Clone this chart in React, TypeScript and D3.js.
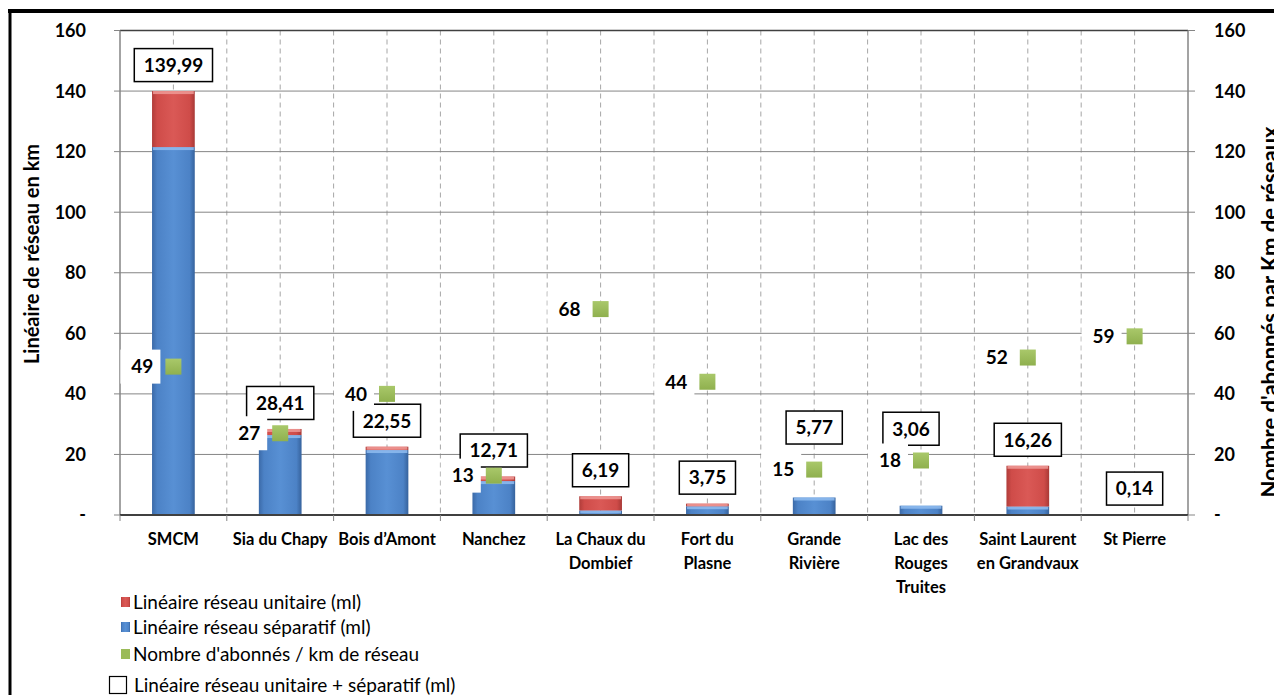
import React from "react";
import * as d3 from "d3";

// ---------- DATA ----------
const categories = [
  "SMCM",
  "Sia du Chapy",
  "Bois d’Amont",
  "Nanchez",
  "La Chaux du Dombief",
  "Fort du Plasne",
  "Grande Rivière",
  "Lac des Rouges Truites",
  "Saint Laurent en Grandvaux",
  "St Pierre",
];
const categoryLines = [
  ["SMCM"],
  ["Sia du Chapy"],
  ["Bois d’Amont"],
  ["Nanchez"],
  ["La Chaux du", "Dombief"],
  ["Fort du", "Plasne"],
  ["Grande", "Rivière"],
  ["Lac des", "Rouges", "Truites"],
  ["Saint Laurent", "en Grandvaux"],
  ["St Pierre"],
];
const separatif = [121.5, 26.4, 21.45, 11.2, 1.5, 2.9, 5.77, 3.06, 2.8, 0.14];
const unitaire = [18.49, 2.01, 1.1, 1.51, 4.69, 0.85, 0, 0, 13.46, 0];
const totals = [139.99, 28.41, 22.55, 12.71, 6.19, 3.75, 5.77, 3.06, 16.26, 0.14];
const abonnesParKm = [49, 27, 40, 13, 68, 44, 15, 18, 52, 59];
const axisTicks = [0, 20, 40, 60, 80, 100, 120, 140, 160];
const legendLabels = [
  "Linéaire réseau unitaire (ml)",
  "Linéaire réseau séparatif (ml)",
  "Nombre d'abonnés / km de réseau",
  "Linéaire réseau unitaire + séparatif (ml)",
];
const leftTitle = "Linéaire de réseau en km";
const rightTitle = "Nombre d'abonnés par Km de réseaux";

// ---------- LAYOUT ----------
const W = 1274;
const H = 695;
const PL = 120;
const PR = 1188;
const PT = 30.5;
const PB = 515;
const FONT = "Lato, 'Open Sans', 'DejaVu Sans', sans-serif";
// manual nudges of the boxed total labels (px)
const totalLift = [0, 0, 0, 0, 0, 0, 44, 51, 0, 0];
const totalShift = [0, 0, 0, 0, 0, 0, 0, -10, 0, 0];
const legendY = [602, 627, 654, 685];

const fmtTick = (v: number) => (v === 0 ? "-" : String(v));
const fmtTotal = (v: number) => d3.format(".2f")(v).replace(".", ",");
const estW = (s: string, size: number) => {
  let w = 0;
  for (const ch of s) w += /[0-9]/.test(ch) ? 0.58 : ch === "," ? 0.27 : 0.55;
  return w * size;
};

export default function App() {
  const x = d3.scaleBand<string>().domain(categories).range([PL, PR]).padding(0);
  const y = d3.scaleLinear().domain([0, 160]).range([PB, PT]);
  const y2 = d3.scaleLinear().domain([0, 160]).range([PB, PT]);
  const bw = x.bandwidth();
  const barW = bw * 0.4;

  const halfLines: number[] = [];
  categories.forEach((c, i) => {
    const x0 = x(c)!;
    if (i > 0) halfLines.push(x0);
    halfLines.push(x0 + bw / 2);
  });

  return (
    <svg
      width={W}
      height={H}
      style={{ position: "absolute", left: 0, top: 0, overflow: "hidden" }}
      fontFamily={FONT}
    >
      <defs>
        <linearGradient id="gBlue" x1="0" x2="1" y1="0" y2="0">
          <stop offset="0%" stopColor="#3b6aa8" />
          <stop offset="12%" stopColor="#4c82c6" />
          <stop offset="50%" stopColor="#5890d4" />
          <stop offset="88%" stopColor="#4c82c6" />
          <stop offset="100%" stopColor="#36629c" />
        </linearGradient>
        <linearGradient id="gRed" x1="0" x2="1" y1="0" y2="0">
          <stop offset="0%" stopColor="#b03d3a" />
          <stop offset="12%" stopColor="#cf4c49" />
          <stop offset="50%" stopColor="#da5956" />
          <stop offset="88%" stopColor="#cf4c49" />
          <stop offset="100%" stopColor="#a83936" />
        </linearGradient>
        <linearGradient id="gGreen" x1="0" x2="0" y1="0" y2="1">
          <stop offset="0%" stopColor="#a9c86a" />
          <stop offset="100%" stopColor="#8fb04e" />
        </linearGradient>
      </defs>
      <rect x={0} y={0} width={W} height={H} fill="#fff" />

      {/* outer frame */}
      <line x1={8} x2={W} y1={11} y2={11} stroke="#000" strokeWidth={4} />
      <line x1={10} x2={10} y1={9} y2={H} stroke="#000" strokeWidth={3} />

      {/* vertical dashed gridlines */}
      {halfLines.map((lx, i) => (
        <line key={"v" + i} x1={lx} x2={lx} y1={PT} y2={PB} stroke="#a6a6a6" strokeWidth={1} strokeDasharray="5,4" />
      ))}
      {/* horizontal gridlines */}
      {axisTicks.filter((t) => t > 0).map((t) => (
        <line key={"h" + t} x1={PL} x2={PR} y1={y(t)} y2={y(t)} stroke={t === 160 ? "#404040" : "#858585"} strokeWidth={t === 160 ? 1.5 : 1} />
      ))}

      {/* axes */}
      <line x1={PL} x2={PL} y1={PT} y2={PB} stroke="#858585" strokeWidth={1.5} />
      <line x1={PR} x2={PR} y1={PT} y2={PB} stroke="#858585" strokeWidth={1.5} />
      {axisTicks.map((t) => (
        <g key={"t" + t}>
          <line x1={PL - 6} x2={PL} y1={y(t)} y2={y(t)} stroke="#858585" />
          <line x1={PR} x2={PR + 7} y1={y2(t)} y2={y2(t)} stroke="#858585" />
        </g>
      ))}

      {/* bars */}
      {categories.map((c, i) => {
        const bx = x(c)! + (bw - barW) / 2;
        const s = separatif[i];
        const u = unitaire[i];
        const ySep = y(s);
        const yTot = y(s + u);
        return (
          <g key={"b" + i}>
            {s > 0 && (
              <>
                <rect x={bx} y={ySep} width={barW} height={PB - ySep} fill="url(#gBlue)" />
                <rect x={bx + 1} y={ySep} width={barW - 2} height={Math.min(3, PB - ySep)} fill="#8fbcf0" opacity={0.85} />
              </>
            )}
            {u > 0 && (
              <>
                <rect x={bx} y={yTot} width={barW} height={ySep - yTot} fill="url(#gRed)" />
                <rect x={bx + 1} y={yTot} width={barW - 2} height={Math.min(3, ySep - yTot)} fill="#ef9a97" opacity={0.85} />
              </>
            )}
          </g>
        );
      })}

      {/* baseline */}
      <line x1={PL} x2={PR} y1={PB} y2={PB} stroke="#404040" strokeWidth={2} />
      {categories.map((c, i) => (
        <line key={"ct" + i} x1={x(c)!} x2={x(c)!} y1={PB} y2={PB + 6} stroke="#858585" />
      ))}
      <line x1={PR} x2={PR} y1={PB} y2={PB + 6} stroke="#858585" />

      {/* boxed totals */}
      {categories.map((c, i) => {
        const cx = x(c)! + bw / 2 + totalShift[i];
        const label = fmtTotal(totals[i]);
        const tw = estW(label, 19);
        const bwid = tw + 18;
        const cy = y(totals[i]) - 26 - totalLift[i];
        return (
          <g key={"tot" + i}>
            <rect x={cx - bwid / 2} y={cy - 16.5} width={bwid} height={33} fill="#fff" stroke="#000" strokeWidth={1.5} />
            <text x={cx} y={cy} dy="0.36em" textAnchor="middle" fontSize={19} fontWeight={700} fill="#000">
              {label}
            </text>
          </g>
        );
      })}

      {/* abonnés / km points */}
      {categories.map((c, i) => {
        const cx = x(c)! + bw / 2;
        const cy = y2(abonnesParKm[i]);
        const label = String(abonnesParKm[i]);
        const tw = estW(label, 19);
        const tr = cx - 20;
        const bx0 = tr - tw - 11;
        return (
          <g key={"p" + i}>
            <rect x={bx0} y={cy - 17} width={cx - 13 - bx0} height={34} fill="#fff" />
            <rect x={cx - 8} y={cy - 8} width={16} height={16} fill="url(#gGreen)" />
            <text x={tr} y={cy} dy="0.36em" textAnchor="end" fontSize={19} fontWeight={700} fill="#000">
              {label}
            </text>
          </g>
        );
      })}

      {/* tick labels */}
      {axisTicks.map((t) => (
        <g key={"tl" + t}>
          <text x={86} y={y(t)} dy="0.36em" textAnchor="end" fontSize={18} fontWeight={700} fill="#000">
            {fmtTick(t)}
          </text>
          <text x={1214} y={y2(t)} dy="0.36em" textAnchor="start" fontSize={18} fontWeight={700} fill="#000">
            {fmtTick(t)}
          </text>
        </g>
      ))}

      {/* category labels */}
      {categories.map((c, i) => (
        <text key={"cl" + i} x={x(c)! + bw / 2} textAnchor="middle" fontSize={16.5} fontWeight={700} fill="#000">
          {categoryLines[i].map((ln, j) => (
            <tspan key={j} x={x(c)! + bw / 2} y={539 + j * 24} dy="0.36em">
              {ln}
            </tspan>
          ))}
        </text>
      ))}

      {/* axis titles */}
      <text transform={`translate(39,254) rotate(-90)`} textAnchor="middle" fontSize={20} fontWeight={700} fill="#000">
        {leftTitle}
      </text>
      <text transform={`translate(1278,312) rotate(-90)`} textAnchor="middle" fontSize={22} fontWeight={700} fill="#000">
        {rightTitle}
      </text>

      {/* legend */}
      {legendLabels.map((lab, i) => {
        const ly = legendY[i];
        return (
          <g key={"lg" + i}>
            {i === 0 && <rect x={121} y={ly - 5} width={9} height={10} fill="url(#gRed)" />}
            {i === 1 && <rect x={121} y={ly - 5} width={9} height={10} fill="url(#gBlue)" />}
            {i === 2 && <rect x={121} y={ly - 5} width={9} height={10} fill="#9bbb59" />}
            {i === 3 && <rect x={109.5} y={ly - 8.5} width={17} height={17} fill="#fff" stroke="#000" strokeWidth={1.2} />}
            <text x={i === 3 ? 134 : 133} y={ly} dy="0.36em" fontSize={19} fill="#000">
              {lab}
            </text>
          </g>
        );
      })}
    </svg>
  );
}
